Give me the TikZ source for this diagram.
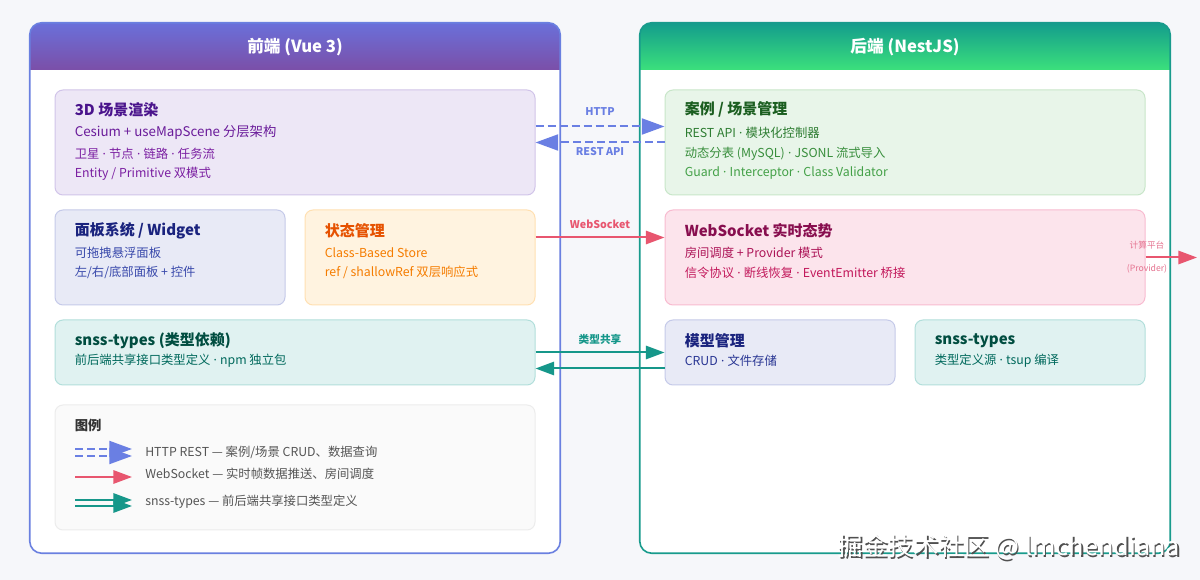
\documentclass[tikz,border=0pt]{standalone}
\usepackage{fontspec}
\setmainfont{Noto Sans CJK SC}
\newfontfamily\latinfont{Noto Sans}
\newcommand\md{{\latinfont\ ·\ }}
\usetikzlibrary{arrows.meta,fit,calc}

\definecolor{pageBg}{HTML}{F6F7FA}
\definecolor{feBd}{HTML}{6A80E0}
\definecolor{feTop}{HTML}{6A70DA}
\definecolor{feMid}{HTML}{6482EA}
\definecolor{feBot}{HTML}{7B4FA8}
\definecolor{beBd}{HTML}{189B8C}
\definecolor{beTop}{HTML}{139C8C}
\definecolor{beMid}{HTML}{1FB889}
\definecolor{beBot}{HTML}{3BE07C}
\definecolor{httpC}{HTML}{6A7FE3}
\definecolor{wsC}{HTML}{E8566F}
\definecolor{typeC}{HTML}{16978A}

\tikzset{
  box/.style={draw, rounded corners=6pt, line width=0.75pt, inner sep=0pt},
  head/.style={font=\fontsize{12.5}{15}\selectfont\bfseries, text=white},
  ttl/.style={anchor=west, inner sep=0pt, font=\fontsize{11.25}{13}\selectfont\bfseries},
  txt/.style={anchor=west, inner sep=0pt, font=\fontsize{9.25}{11}\selectfont},
  lbl/.style={font=\fontsize{8}{10}\selectfont\bfseries},
  http/.style={draw=httpC, line width=1.5pt, dash pattern=on 6pt off 3pt,
    -{Triangle[length=17pt,width=12pt,fill=httpC]}},
  wsline/.style={draw=wsC, line width=1.5pt, -{Triangle[length=14pt,width=10pt,fill=wsC]}},
  typeline/.style={draw=typeC, line width=1.5pt, -{Triangle[length=14pt,width=10pt,fill=typeC]}}
}

\begin{document}
\begin{tikzpicture}[x=0.75pt, y=-0.75pt]

\fill[pageBg] (0,0) rectangle (1200,580);
\useasboundingbox (0,0) rectangle (1200,580);

% panels
\node[fill=white, rounded corners=9pt, inner sep=0pt, fit={(30,23) (560,553)}] (fe) {};
\node[fill=white, rounded corners=9pt, inner sep=0pt, fit={(640,23) (1170,553)}] (be) {};
\begin{scope}
\clip[rounded corners=9pt] (fe.north west) rectangle (fe.south east);
\shade[top color=feTop, middle color=feMid, bottom color=feBot] (fe.north west) rectangle ($(fe.north east)+(0,47)$);
\end{scope}
\begin{scope}
\clip[rounded corners=9pt] (be.north west) rectangle (be.south east);
\shade[top color=beTop, middle color=beMid, bottom color=beBot] (be.north west) rectangle ($(be.north east)+(0,47)$);
\end{scope}
\draw[feBd, line width=1.2pt, rounded corners=9pt] (fe.north west) rectangle (fe.south east);
\draw[beBd, line width=1.2pt, rounded corners=9pt] (be.north west) rectangle (be.south east);
\node[head] (feHead) at ($(fe.north)+(0,24)$) {前端 (Vue 3)};
\node[head] (beHead) at ($(be.north)+(0,24)$) {后端 (NestJS)};

% front end boxes
\node[box, fill={rgb,255:red,237;green,231;blue,246}, draw={rgb,255:red,209;green,196;blue,233}, fit={(55,90) (535,195)}] (scene) {};
\node[ttl, text={rgb,255:red,74;green,20;blue,140}] (sceneT) at ($(scene.north west)+(20,20)$) {3D 场景渲染};
\node[txt, font=\fontsize{10}{11}\selectfont, text={rgb,255:red,106;green,27;blue,154}] (sceneA) at ($(scene.north west)+(20,43)$) {Cesium + useMapScene 分层架构};
\node[txt, text={rgb,255:red,123;green,31;blue,162}] (sceneB) at ($(scene.north west)+(20,64)$) {卫星\md{}节点\md{}链路\md{}任务流};
\node[txt, text={rgb,255:red,123;green,31;blue,162}] (sceneC) at ($(scene.north west)+(20,84)$) {Entity / Primitive 双模式};

\node[box, fill={rgb,255:red,232;green,234;blue,246}, draw={rgb,255:red,197;green,202;blue,233}, fit={(55,210) (285,305)}] (panel) {};
\node[ttl, text={rgb,255:red,26;green,35;blue,126}] (panelT) at ($(panel.north west)+(20,21)$) {面板系统 / Widget};
\node[txt, text={rgb,255:red,57;green,73;blue,171}] (panelA) at ($(panel.north west)+(20,43)$) {可拖拽悬浮面板};
\node[txt, text={rgb,255:red,57;green,73;blue,171}] (panelB) at ($(panel.north west)+(20,63)$) {左/右/底部面板 + 控件};

\node[box, fill={rgb,255:red,255;green,243;blue,224}, draw={rgb,255:red,255;green,224;blue,178}, fit={(305,210) (535,305)}] (state) {};
\node[ttl, text={rgb,255:red,230;green,81;blue,0}] (stateT) at ($(state.north west)+(20,21)$) {状态管理};
\node[txt, text={rgb,255:red,245;green,124;blue,0}] (stateA) at ($(state.north west)+(20,43)$) {Class-Based Store};
\node[txt, text={rgb,255:red,245;green,124;blue,0}] (stateB) at ($(state.north west)+(20,63)$) {ref / shallowRef 双层响应式};

\node[box, fill={rgb,255:red,224;green,242;blue,241}, draw={rgb,255:red,178;green,223;blue,219}, fit={(55,320) (535,385)}] (types) {};
\node[ttl, text={rgb,255:red,0;green,77;blue,64}] (typesT) at ($(types.north west)+(20,21)$) {snss-types (类型依赖)};
\node[txt, text={rgb,255:red,0;green,105;blue,92}] (typesA) at ($(types.north west)+(20,41)$) {前后端共享接口类型定义\md{}npm 独立包};

% legend
\node[box, fill={rgb,255:red,250;green,250;blue,250}, draw={rgb,255:red,236;green,236;blue,236}, fit={(55,405) (535,530)}] (legend) {};
\node[ttl, font=\fontsize{10}{12}\selectfont\bfseries, text={rgb,255:red,51;green,51;blue,51}] (legendT) at ($(legend.north west)+(20,21)$) {图例};
\coordinate (lgA1) at (75,449); \coordinate (lgB1) at (132,449);
\coordinate (lgA2) at (75,456); \coordinate (lgB2) at (132,456);
\coordinate (lgC) at (75,477); \coordinate (lgD) at (132,477);
\coordinate (lgE1) at (75,500); \coordinate (lgF1) at (132,500);
\coordinate (lgE2) at (75,506); \coordinate (lgF2) at (132,506);
\draw[http] (lgA1) -- (lgB1);
\draw[http] (lgA2) -- (lgB2);
\draw[wsline] (lgC) -- (lgD);
\draw[typeline] (lgE1) -- (lgF1);
\draw[typeline] (lgE2) -- (lgF2);
\node[txt, text={rgb,255:red,85;green,85;blue,85}] (lgHttpT) at (145,452) {HTTP REST — 案例/场景 CRUD、数据查询};
\node[txt, text={rgb,255:red,85;green,85;blue,85}] (lgWsT) at (145,474) {WebSocket — 实时帧数据推送、房间调度};
\node[txt, text={rgb,255:red,85;green,85;blue,85}] (lgTypeT) at (145,502) {snss-types — 前后端共享接口类型定义};

% back end boxes
\node[box, fill={rgb,255:red,232;green,245;blue,233}, draw={rgb,255:red,200;green,230;blue,201}, fit={(665,90) (1145,195)}] (case) {};
\node[ttl, text={rgb,255:red,27;green,94;blue,32}] (caseT) at ($(case.north west)+(20,20)$) {案例 / 场景管理};
\node[txt, text={rgb,255:red,46;green,125;blue,50}] (caseA) at ($(case.north west)+(20,43)$) {REST API\md{}模块化控制器};
\node[txt, text={rgb,255:red,56;green,142;blue,60}] (caseB) at ($(case.north west)+(20,64)$) {动态分表 (MySQL)\md{}JSONL 流式导入};
\node[txt, text={rgb,255:red,67;green,160;blue,71}] (caseC) at ($(case.north west)+(20,84)$) {Guard\md{}Interceptor\md{}Class Validator};

\node[box, fill={rgb,255:red,252;green,228;blue,236}, draw={rgb,255:red,248;green,187;blue,208}, fit={(665,210) (1145,305)}] (ws) {};
\node[ttl, text={rgb,255:red,136;green,14;blue,79}] (wsT) at ($(ws.north west)+(20,21)$) {WebSocket 实时态势};
\node[txt, text={rgb,255:red,173;green,20;blue,87}] (wsA) at ($(ws.north west)+(20,43)$) {房间调度 + Provider 模式};
\node[txt, text={rgb,255:red,194;green,24;blue,91}] (wsB) at ($(ws.north west)+(20,63)$) {信令协议\md{}断线恢复\md{}EventEmitter 桥接};

\node[box, fill={rgb,255:red,232;green,234;blue,246}, draw={rgb,255:red,197;green,202;blue,233}, fit={(665,320) (895,385)}] (model) {};
\node[ttl, text={rgb,255:red,26;green,35;blue,126}] (modelT) at ($(model.north west)+(20,21)$) {模型管理};
\node[txt, text={rgb,255:red,40;green,53;blue,147}] (modelA) at ($(model.north west)+(20,41)$) {CRUD\md{}文件存储};

\node[box, fill={rgb,255:red,224;green,242;blue,241}, draw={rgb,255:red,178;green,223;blue,219}, fit={(915,320) (1145,385)}] (typesB) {};
\node[ttl, text={rgb,255:red,0;green,77;blue,64}] (typesBT) at ($(typesB.north west)+(20,21)$) {snss-types};
\node[txt, text={rgb,255:red,0;green,105;blue,92}] (typesBA) at ($(typesB.north west)+(20,41)$) {类型定义源\md{}tsup 编译};

% connectors
\draw[http] ($(scene.east)+(0,-16)$) -- ($(case.west)+(0,-16)$);
\draw[http] (case.west) -- (scene.east);
\node[lbl, text=httpC] (httpL) at (600,112) {HTTP};
\node[lbl, text=httpC] (restL) at (600,152) {REST API};

\draw[wsline] ($(state.east)+(0,-20)$) -- ($(ws.west)+(0,-20)$);
\node[lbl, text=wsC] (wsL) at (600,224) {WebSocket};

\draw[typeline] (types.east) -- (model.west);
\draw[typeline] ($(model.west)+(0,16)$) -- ($(types.east)+(0,16)$);
\node[lbl, text=typeC] (typeL) at (600,339) {类型共享};

\coordinate (calcEnd) at (1197,257.5);
\draw[wsline] (ws.east) -- (calcEnd);
\node[font=\fontsize{6.5}{8}\selectfont, text={rgb,255:red,229;green,115;blue,144}] (calcL) at (1147,245) {计算平台};
\node[font=\fontsize{6.5}{8}\selectfont, text={rgb,255:red,229;green,115;blue,144}] (provL) at (1147,269) {(Provider)};

% watermark
\node[font=\fontsize{19}{22}\selectfont, text={rgb,255:red,80;green,80;blue,80}] (wmShadow) at (1010.5,548.5) {掘金技术社区 @ lmchendiana};
\node[font=\fontsize{19}{22}\selectfont, text=white] (wm) at (1009,547) {掘金技术社区 @ lmchendiana};

\end{tikzpicture}
\end{document}
